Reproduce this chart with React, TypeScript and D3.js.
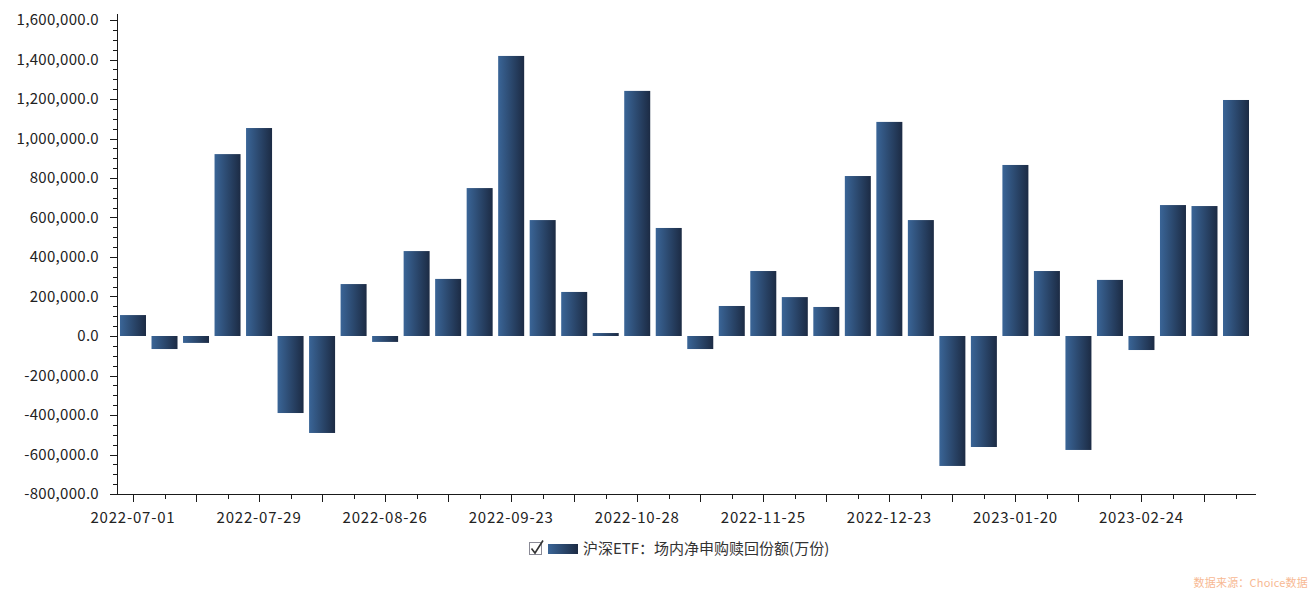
import * as d3 from 'd3';
import React, { useEffect, useRef } from 'react';

const dates = [
  '2022-07-01', '2022-07-08', '2022-07-15', '2022-07-22', '2022-07-29', '2022-08-05',
  '2022-08-12', '2022-08-19', '2022-08-26', '2022-09-02', '2022-09-09', '2022-09-16',
  '2022-09-23', '2022-09-30', '2022-10-14', '2022-10-21', '2022-10-28', '2022-11-04',
  '2022-11-11', '2022-11-18', '2022-11-25', '2022-12-02', '2022-12-09', '2022-12-16',
  '2022-12-23', '2022-12-30', '2023-01-06', '2023-01-13', '2023-01-20', '2023-02-03',
  '2023-02-10', '2023-02-17', '2023-02-24', '2023-03-03', '2023-03-10', '2023-03-17',
];

const values = [
  106000, -66000, -35000, 921000, 1053000, -390000,
  -491000, 263000, -30000, 430000, 289000, 749000,
  1418000, 587000, 223000, 15000, 1241000, 547000,
  -66000, 152000, 329000, 197000, 147000, 810000,
  1084000, 587000, -658000, -562000, 866000, 329000,
  -577000, 284000, -71000, 663000, 658000, 1195000,
];

const yTicks = [-800000, -600000, -400000, -200000, 0, 200000, 400000, 600000, 800000, 1000000, 1200000, 1400000, 1600000];

const seriesName = '沪深ETF：场内净申购赎回份额(万份)';
const sourceText = '数据来源：Choice数据';

const W = 1312;
const H = 591;
const left = 117;
const bandEnd = 1252;
const right = 1256;
const top = 20;
const bottom = 494;
const font = '"Microsoft YaHei", "Noto Sans CJK SC", "Noto Sans", sans-serif';

const BarChart = () => {
  const svgRef = useRef(null);

  useEffect(() => {
    const svg = d3.select(svgRef.current);
    svg.selectAll('*').remove();

    const defs = svg.append('defs');
    const grad = defs
      .append('linearGradient')
      .attr('id', 'barGrad')
      .attr('x1', '0%')
      .attr('x2', '100%')
      .attr('y1', '0%')
      .attr('y2', '0%');
    grad.append('stop').attr('offset', '0%').attr('stop-color', '#3a6597');
    grad.append('stop').attr('offset', '100%').attr('stop-color', '#1c2b44');

    const x = d3.scaleBand().domain(dates).range([left, bandEnd]).paddingInner(0.175).paddingOuter(0.095);
    const y = d3.scaleLinear().domain([-800000, 1600000]).range([bottom, top]);

    // bars
    svg
      .append('g')
      .selectAll('rect')
      .data(values)
      .enter()
      .append('rect')
      .attr('x', (d, i) => x(dates[i]))
      .attr('width', x.bandwidth())
      .attr('y', (d) => Math.min(y(d), y(0)))
      .attr('height', (d) => Math.abs(y(d) - y(0)))
      .style('fill', 'url(#barGrad)');

    const axisColor = '#1a1a1a';

    // y axis
    const ya = svg.append('g');
    ya.append('line')
      .attr('x1', left + 0.5)
      .attr('x2', left + 0.5)
      .attr('y1', top - 6)
      .attr('y2', bottom)
      .attr('stroke', axisColor);
    const minor = d3.range(-800000, 1600001, 50000);
    ya.selectAll('line.minor')
      .data(minor)
      .enter()
      .append('line')
      .attr('class', 'minor')
      .attr('x1', (d) => (d % 200000 === 0 ? left - 7 : left - 4))
      .attr('x2', left)
      .attr('y1', (d) => Math.round(y(d)) + 0.5)
      .attr('y2', (d) => Math.round(y(d)) + 0.5)
      .attr('stroke', axisColor);
    ya.selectAll('text')
      .data(yTicks)
      .enter()
      .append('text')
      .attr('x', left - 18)
      .attr('y', (d) => y(d))
      .attr('dy', '0.35em')
      .attr('text-anchor', 'end')
      .style('font-family', font)
      .style('font-size', '15px')
      .style('letter-spacing', '0.3px')
      .style('fill', '#222')
      .text((d) => d3.format(',.1f')(d).replace('−', '-'));

    // x axis
    const xa = svg.append('g');
    xa.append('line')
      .attr('x1', left)
      .attr('x2', right)
      .attr('y1', bottom + 0.5)
      .attr('y2', bottom + 0.5)
      .attr('stroke', axisColor);
    xa.selectAll('line.tick')
      .data(dates)
      .enter()
      .append('line')
      .attr('class', 'tick')
      .attr('x1', (d) => Math.round(x(d) + x.bandwidth() / 2) + 0.5)
      .attr('x2', (d) => Math.round(x(d) + x.bandwidth() / 2) + 0.5)
      .attr('y1', bottom)
      .attr('y2', (d, i) => (i % 2 === 0 ? bottom + 8 : bottom + 5))
      .attr('stroke', axisColor);
    xa.selectAll('text')
      .data(dates.filter((d, i) => i % 4 === 0))
      .enter()
      .append('text')
      .attr('x', (d) => x(d) + x.bandwidth() / 2)
      .attr('y', bottom + 29)
      .attr('text-anchor', 'middle')
      .style('font-family', font)
      .style('font-size', '15px')
      .style('letter-spacing', '0.8px')
      .style('fill', '#222')
      .text((d) => d);

    // legend
    const lg = svg.append('g');
    lg.append('rect')
      .attr('x', 529.5)
      .attr('y', 542.5)
      .attr('width', 12)
      .attr('height', 12)
      .attr('fill', '#fff')
      .attr('stroke', '#8a8a96');
    lg.append('path')
      .attr('d', 'M531.5,548.5 L535,553 L543,540.5')
      .attr('fill', 'none')
      .attr('stroke', '#333')
      .attr('stroke-width', 1.6);
    lg.append('rect')
      .attr('x', 548)
      .attr('y', 544)
      .attr('width', 30)
      .attr('height', 10)
      .style('fill', 'url(#barGrad)');
    lg.append('text')
      .attr('x', 583)
      .attr('y', 549)
      .attr('dy', '0.35em')
      .style('font-family', font)
      .style('font-size', '15px')
      .style('fill', '#333')
      .text(seriesName);

    svg
      .append('text')
      .attr('x', 1308)
      .attr('y', 583)
      .attr('dy', '0.35em')
      .attr('text-anchor', 'end')
      .style('font-family', font)
      .style('font-size', '11px')
      .style('letter-spacing', '0.2px')
      .style('fill', '#f7b993')
      .text(sourceText);
  }, []);

  return (
    <svg
      ref={svgRef}
      width={W}
      height={H}
      style={{ position: 'absolute', left: 0, top: 0, background: '#fff' }}
    />
  );
};

export default function App() {
  return <BarChart />;
}
